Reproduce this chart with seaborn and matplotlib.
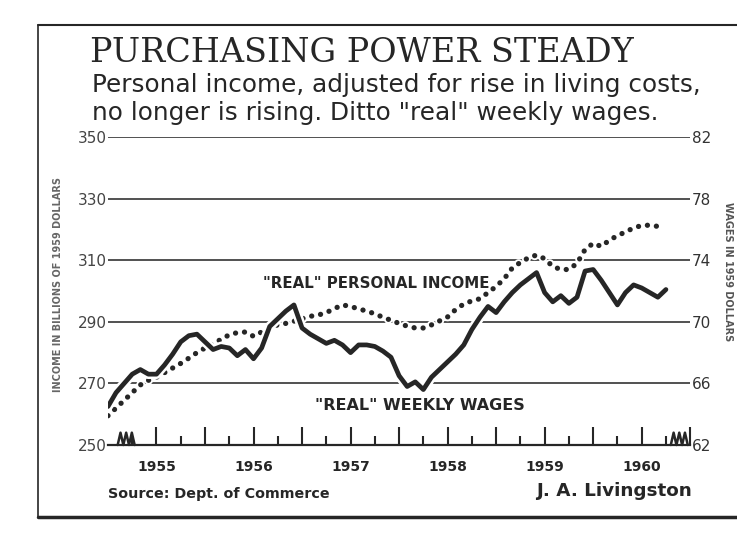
import numpy as np
import pandas as pd
import matplotlib.pyplot as plt
import matplotlib.patheffects as pe
from matplotlib.lines import Line2D
from matplotlib.ticker import FixedLocator
import seaborn as sns

# "Real" personal income, billions of 1959 dollars, monthly from Jan 1955
income = [259.5, 262.0, 264.5, 267.0, 269.5, 271.0, 272.0, 273.5, 275.0, 276.5,
          278.2, 280.0, 281.5, 283.0, 284.3, 285.8, 286.5, 286.7, 285.3, 286.7,
          288.3, 289.0, 289.5, 290.2, 291.0, 291.8, 292.2, 293.0, 294.3, 295.5,
          295.0, 294.2, 293.5, 292.6, 291.5, 290.5, 289.5, 288.6, 288.0, 288.0,
          289.0, 290.3, 291.6, 294.0, 295.8, 296.8, 297.5, 299.5, 301.5, 304.0,
          307.5, 309.3, 310.8, 311.7, 310.5, 308.0, 307.0, 307.0, 309.0, 313.5,
          315.5, 314.5, 316.5, 318.0, 319.2, 320.5, 321.3, 321.4, 321.0]

# "Real" weekly wages, 1959 dollars, monthly from Jan 1955
wages = [64.5, 65.4, 66.0, 66.6, 66.9, 66.6, 66.6, 67.2, 67.9, 68.7,
         69.1, 69.2, 68.7, 68.2, 68.4, 68.3, 67.8, 68.2, 67.6, 68.3,
         69.7, 70.2, 70.7, 71.1, 69.6, 69.2, 68.9, 68.6, 68.8, 68.5,
         68.0, 68.5, 68.5, 68.4, 68.1, 67.7, 66.5, 65.8, 66.1, 65.6,
         66.4, 66.9, 67.4, 67.9, 68.5, 69.5, 70.3, 71.0, 70.6, 71.3,
         71.9, 72.4, 72.8, 73.2, 71.9, 71.3, 71.7, 71.2, 71.6, 73.3,
         73.4, 72.7, 71.9, 71.1, 71.9, 72.4, 72.2, 71.9, 71.6, 72.1]

years = ["1955", "1956", "1957", "1958", "1959", "1960"]
income_ticks = [250, 270, 290, 310, 330, 350]
wage_ticks = [62, 66, 70, 74, 78, 82]

start_year = 1955
income_df = pd.DataFrame({"date": start_year + np.arange(len(income)) / 12,
                          "income": income})
wages_df = pd.DataFrame({"date": start_year + np.arange(len(wages)) / 12,
                         "wages": wages})

sns.set_theme(style="white")
plt.rcParams['font.family'] = ['DejaVu Sans']

ink = "#262626"
fig = plt.figure(figsize=(7.37, 5.42), dpi=100)
ax = fig.add_axes([0.1465, 0.179, 0.790, 0.568])
ax2 = ax.twinx()

# income: heavy dotted line on the left scale
sns.lineplot(data=income_df, x="date", y="income", ax=ax, color=ink,
             linewidth=3.8, linestyle=(0, (0.01, 1.7)), dash_capstyle="round",
             path_effects=[pe.Stroke(linewidth=6.5, foreground="white"), pe.Normal()],
             zorder=3)

# wages: heavy solid line on the right scale
sns.lineplot(data=wages_df, x="date", y="wages", ax=ax2, color=ink,
             linewidth=3.4, solid_capstyle="round", solid_joinstyle="round",
             path_effects=[pe.Stroke(linewidth=7, foreground="white"), pe.Normal()],
             zorder=3)

ax.set_xlim(start_year, start_year + 6)
ax.set_ylim(250, 350)
ax2.set_ylim(62, 82)

ax.set_yticks(income_ticks)
ax2.set_yticks(wage_ticks)
ax.yaxis.grid(True, color="#333333", linewidth=1.2)
ax.xaxis.grid(False)
ax2.grid(False)
ax.set_axisbelow(True)

# half-year ticks tall, quarter ticks short, year names at mid-year
half_years = [start_year + k / 2 for k in range(1, 13)]
ax.xaxis.set_major_locator(FixedLocator(half_years))
ax.set_xticklabels([years[k // 2] if k % 2 == 0 else "" for k in range(12)])
ax.xaxis.set_minor_locator(FixedLocator([start_year + 0.25 + k / 2 for k in range(12)]))
ax.tick_params(axis="x", which="major", direction="in", length=13, width=1.5,
               color=ink, pad=11, labelsize=10, labelcolor=ink, bottom=True)
ax.tick_params(axis="x", which="minor", direction="in", length=6.5, width=1.5,
               color=ink, bottom=True)
for lab in ax.get_xticklabels():
    lab.set_fontweight("bold")

ax.tick_params(axis="y", length=0, pad=1, labelsize=11, labelcolor="#444444")
ax2.tick_params(axis="y", length=0, pad=1, labelsize=11, labelcolor="#333333")

for a in (ax, ax2):
    for side in ("left", "right", "top"):
        a.spines[side].set_visible(False)
ax2.spines["bottom"].set_visible(False)
ax.spines["bottom"].set_color(ink)
ax.spines["bottom"].set_linewidth(1.6)
ax.set_xlabel("")
ax.set_ylabel("")
ax2.set_ylabel("")

# scale-break marks at both ends of the base line
xt = ax.get_xaxis_transform()
zig = np.array([0.0, 0.35, 0.7, 1.05, 1.4, 1.75, 2.1]) / 12
zag = np.array([0.0, 0.04, 0.0, 0.04, 0.0, 0.04, 0.0])
ax.plot(start_year + 0.1 + zig, zag, color=ink, lw=1.8, transform=xt, clip_on=False)
ax.plot(start_year + 5.8 + zig, zag, color=ink, lw=1.8, transform=xt, clip_on=False)

# series labels
ax.text(start_year + 33.2 / 12, 302.6, '"REAL" PERSONAL INCOME', ha="center",
        va="center", fontsize=10.8, fontweight="bold", color=ink)
ax.text(start_year + 38.6 / 12, 262.7, '"REAL" WEEKLY WAGES', ha="center",
        va="center", fontsize=11.5, fontweight="bold", color=ink)

# axis titles
fig.text(58 / 737, 1 - 285 / 542, "INCOME IN BILLIONS OF 1959 DOLLARS", rotation=90,
         ha="center", va="center", fontsize=7, fontweight="bold", color="#666666")
fig.text(728 / 737, 1 - 272 / 542, "WAGES IN 1959 DOLLARS", rotation=270,
         ha="center", va="center", fontsize=7, fontweight="bold", color="#555555")

# headline
fig.text(90 / 737, 1 - 62 / 542, "PURCHASING POWER STEADY", fontsize=24,
         family="DejaVu Serif", color=ink, va="baseline")
fig.text(92 / 737, 1 - 92 / 542, "Personal income, adjusted for rise in living costs,",
         fontsize=17.8, family="DejaVu Sans", color=ink, va="baseline")
fig.text(92 / 737, 1 - 120 / 542, 'no longer is rising. Ditto "real" weekly wages.',
         fontsize=17.8, family="DejaVu Sans", color=ink, va="baseline")

# footer
fig.text(108 / 737, 1 - 494 / 542, "Source: Dept. of Commerce", fontsize=10.3,
         fontweight="bold", color=ink, va="center")
fig.text(692 / 737, 1 - 491 / 542, "J. A. Livingston", fontsize=13.2,
         fontweight="bold", color=ink, va="center", ha="right")

# box rules around the chart
fig.add_artist(Line2D([38 / 737, 38 / 737], [1 - 25 / 542, 1 - 517 / 542],
                      transform=fig.transFigure, color=ink, lw=1.2))
fig.add_artist(Line2D([38 / 737, 1.0], [1 - 25 / 542, 1 - 25 / 542],
                      transform=fig.transFigure, color=ink, lw=1.5))
fig.add_artist(Line2D([38 / 737, 1.0], [1 - 517 / 542, 1 - 517 / 542],
                      transform=fig.transFigure, color=ink, lw=2.5))

fig.savefig("out.png", dpi=100)
